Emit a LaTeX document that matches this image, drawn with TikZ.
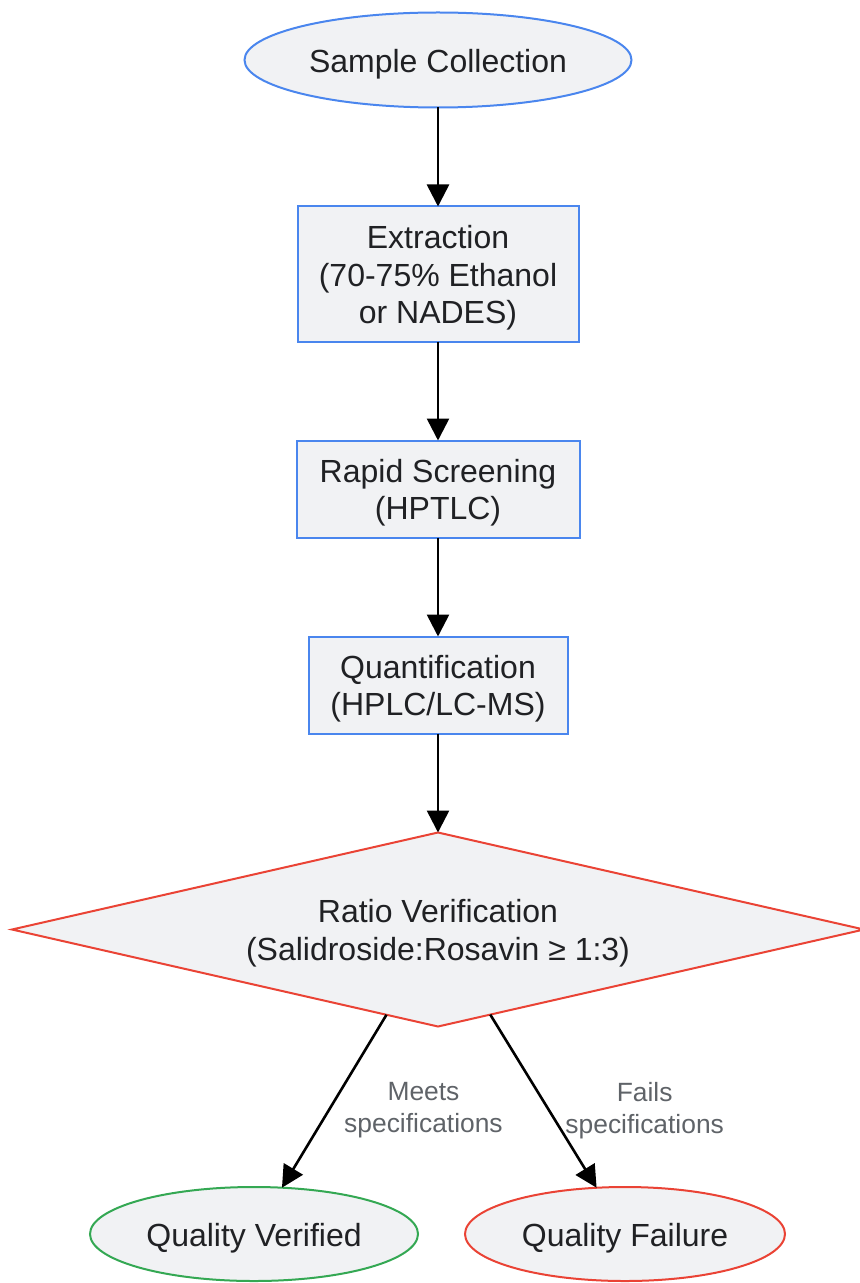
\documentclass[tikz,border=0pt]{standalone}
\usepackage{fontspec}
\setmainfont{Liberation Sans}
\usetikzlibrary{positioning, shapes.geometric, arrows.meta}
\definecolor{stepblue}{HTML}{4A86EE}
\definecolor{failred}{HTML}{EA4335}
\definecolor{okgreen}{HTML}{34A853}
\definecolor{boxfill}{HTML}{F1F2F4}
\definecolor{inktext}{HTML}{202124}
\definecolor{labelgray}{HTML}{5F6368}
\newcommand{\toplift}{\rule{0pt}{15.5pt}}

\begin{document}
\begin{tikzpicture}
[node distance=49.5pt, text=inktext, line width=1pt,
every node/.style={font=\fontsize{16}{18.75}\selectfont, align=center, inner sep=0pt, outer sep=0pt},
process/.style={rectangle, draw=stepblue, fill=boxfill},
terminal/.style={ellipse, fill=boxfill},
decision/.style={diamond, draw=failred, fill=boxfill, aspect=4.38, minimum width=426pt, minimum height=97pt},
flow/.style={draw=black, line width=1.3pt, -{Triangle[length=11pt, width=11pt]}},
edgelabel/.style={text=labelgray, font=\fontsize{13.2}{16}\selectfont}]
\useasboundingbox (0,0) rectangle (430pt,-641.5pt);

\node[terminal, draw=stepblue, minimum width=193.5pt, minimum height=47.5pt] (sample) at (219pt,-30pt) {\toplift Sample Collection};
\node[process, minimum width=140.5pt, minimum height=67.5pt, below=of sample] (extract) {\toplift Extraction\\(70-75\% Ethanol\\or NADES)};
\node[process, minimum width=141.5pt, minimum height=48.5pt, below=of extract] (screen) {\toplift Rapid Screening\\(HPTLC)};
\node[process, minimum width=129.5pt, minimum height=48.5pt, below=of screen] (quant) {\toplift Quantification\\(HPLC/LC-MS)};
\node[decision, below=of quant] (ratio) {\toplift Ratio Verification\\(Salidroside:Rosavin ≥ 1:3)};
\node[terminal, draw=okgreen, minimum width=164pt, minimum height=47pt, below=80.25pt of ratio, xshift=-92pt] (verified) {\toplift Quality Verified};
\node[terminal, draw=failred, minimum width=160pt, minimum height=47pt, below=80.25pt of ratio, xshift=93.5pt] (failure) {\toplift Quality Failure};

% main chain
\draw[flow] (sample) -- (extract);
\draw[flow] (extract) -- (screen);
\draw[flow] (screen) -- (quant);
\draw[flow] (quant) -- (ratio);
% outcomes
\draw[flow] (ratio) -- node[edgelabel, anchor=west, xshift=5pt, yshift=-4.5pt] (meets) {Meets\\specifications} (verified);
\draw[flow] (ratio) -- node[edgelabel, anchor=west, xshift=11pt, yshift=-4.5pt] (fails) {Fails\\specifications} (failure);
\end{tikzpicture}
\end{document}
